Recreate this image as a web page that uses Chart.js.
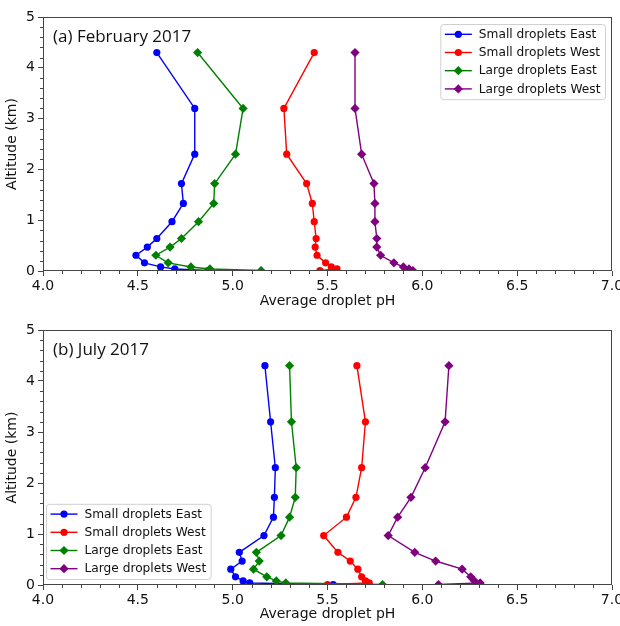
<!DOCTYPE html>
<html>
<head>
<meta charset="utf-8">
<script src="https://cdn.jsdelivr.net/npm/chart.js@4.4.1/dist/chart.umd.min.js"></script>
<style>
  html, body { margin: 0; padding: 0; background: #fff; }
  #wrap { position: relative; width: 620px; height: 626px; }
  canvas { position: absolute; left: 0; }
  #feb { top: 0; }
  #jul { top: 313px; }
</style>
</head>
<body>
<div id="wrap">
  <canvas id="feb" width="620" height="313"></canvas>
  <canvas id="jul" width="620" height="313"></canvas>
</div>
<script>
// altitude levels (km), shared by every profile
const altitudes = [4.3, 3.2, 2.3, 1.72, 1.33, 0.97, 0.64, 0.47, 0.31, 0.16, 0.08, 0.04, 0.01];
const seriesNames = ["Small droplets East", "Small droplets West", "Large droplets East", "Large droplets West"];
const seriesColors = ["#0000ff", "#ff0000", "#008000", "#800080"];
const xTicks = [4.0, 4.5, 5.0, 5.5, 6.0, 6.5, 7.0];
const yTicks = [0, 1, 2, 3, 4, 5];

// (a) February 2017 - average droplet pH
const febSmallEast = [4.60, 4.80, 4.80, 4.73, 4.74, 4.68, 4.60, 4.55, 4.49, 4.535, 4.62, 4.695, 4.87];
const febSmallWest = [5.43, 5.27, 5.285, 5.39, 5.42, 5.43, 5.44, 5.435, 5.445, 5.49, 5.52, 5.55, 5.46];
const febLargeEast = [4.815, 5.055, 5.015, 4.905, 4.90, 4.82, 4.73, 4.67, 4.595, 4.66, 4.78, 4.88, 5.15];
const febLargeWest = [5.645, 5.645, 5.68, 5.745, 5.75, 5.75, 5.76, 5.76, 5.78, 5.85, 5.90, 5.93, 5.95];

// (b) July 2017 - average droplet pH
const julSmallEast = [5.17, 5.20, 5.225, 5.22, 5.215, 5.165, 5.035, 5.05, 4.99, 5.015, 5.055, 5.09, 5.53];
const julSmallWest = [5.655, 5.70, 5.68, 5.65, 5.60, 5.48, 5.555, 5.62, 5.66, 5.68, 5.70, 5.72, 5.50];
const julLargeEast = [5.30, 5.31, 5.335, 5.33, 5.30, 5.255, 5.125, 5.14, 5.11, 5.18, 5.23, 5.28, 5.79];
const julLargeWest = [6.14, 6.12, 6.015, 5.94, 5.87, 5.82, 5.96, 6.07, 6.21, 6.255, 6.275, 6.305, 6.085];

const tickFont = { family: "'DejaVu Sans'", size: 14 };

function makeDatasets(profiles){
  return profiles.map((vals, i) => {
    const small = i < 2;
    return {
      label: seriesNames[i],
      data: vals.map((v, k) => ({ x: v, y: altitudes[k] })),
      showLine: true,
      borderColor: seriesColors[i],
      backgroundColor: seriesColors[i],
      borderWidth: 1.4,
      pointStyle: small ? "circle" : "rectRot",
      pointRadius: small ? 3.6 : 4.6,
      pointBorderWidth: 0,
      order: 3 - i
    };
  });
}

// frame + minor ticks, matplotlib style
const frameTicks = {
  id: "frameTicks",
  afterDraw(chart){
    const ctx = chart.ctx, a = chart.chartArea;
    const xs = chart.scales.x, ys = chart.scales.y;
    ctx.save();
    ctx.strokeStyle = "#444";
    ctx.lineWidth = 1;
    ctx.strokeRect(a.left + 0.5, a.top + 0.5, a.right - a.left - 1, a.bottom - a.top - 1);
    ctx.beginPath();
    for(let i = 0; i <= 30; i++){
      if(i % 5 === 0) continue;
      const px = Math.round(xs.getPixelForValue(4 + i / 10)) + 0.5;
      ctx.moveTo(px, a.bottom); ctx.lineTo(px, a.bottom + 3);
    }
    for(let i = 0; i <= 25; i++){
      if(i % 5 === 0) continue;
      const py = Math.round(ys.getPixelForValue(i / 5)) + 0.5;
      ctx.moveTo(a.left, py); ctx.lineTo(a.left - 3, py);
    }
    ctx.stroke();
    ctx.restore();
  }
};

// panel label in upper left corner
const panelLabel = {
  id: "panelLabel",
  afterDraw(chart, args, opts){
    const ctx = chart.ctx, a = chart.chartArea;
    ctx.save();
    ctx.font = "17px 'Open Sans'";
    ctx.fillStyle = "#111";
    ctx.textBaseline = "middle";
    ctx.fillText(opts.text, a.left + 10, a.top + 20);
    ctx.restore();
  }
};

// legend box with line + marker samples
const boxLegend = {
  id: "boxLegend",
  afterDraw(chart, args, opts){
    const ctx = chart.ctx, a = chart.chartArea;
    const items = chart.data.datasets;
    const rowH = 18.2, lineLen = 27, gap = 7, padX = 4.5, padY = 1.2;
    ctx.save();
    ctx.font = "12.2px 'DejaVu Sans'";
    const textW = Math.max(...items.map(d => ctx.measureText(d.label).width));
    const w = padX * 2 + lineLen + gap + textW;
    const h = padY * 2 + rowH * items.length;
    const x0 = opts.corner === "topRight" ? a.right - opts.dx - w : a.left + opts.dx;
    const y0 = opts.corner === "topRight" ? a.top + opts.dy : a.bottom - opts.dy - h;
    ctx.beginPath();
    ctx.roundRect(x0 + 0.5, y0 + 0.5, w, h, 3);
    ctx.fillStyle = "rgba(255,255,255,0.8)";
    ctx.fill();
    ctx.strokeStyle = "#d0d0d0";
    ctx.lineWidth = 1;
    ctx.stroke();
    items.forEach((d, i) => {
      const cy = y0 + padY + rowH * (i + 0.5);
      const lx = x0 + padX;
      ctx.strokeStyle = d.borderColor;
      ctx.fillStyle = d.backgroundColor;
      ctx.lineWidth = d.borderWidth;
      ctx.beginPath();
      ctx.moveTo(lx, cy); ctx.lineTo(lx + lineLen, cy);
      ctx.stroke();
      Chart.helpers.drawPoint(ctx, { pointStyle: d.pointStyle, radius: d.pointRadius, rotation: 0, borderWidth: 0 }, lx + lineLen / 2, cy);
      ctx.fillStyle = "#111";
      ctx.textBaseline = "middle";
      ctx.fillText(d.label, lx + lineLen + gap, cy + 0.5);
    });
    ctx.restore();
  }
};

function makeChart(id, profiles, label, legendOpts, axisH){
  return new Chart(document.getElementById(id), {
    type: "scatter",
    data: { datasets: makeDatasets(profiles) },
    plugins: [frameTicks, panelLabel, boxLegend],
    options: {
      responsive: false,
      animation: false,
      layout: { padding: { top: 17, right: 8, left: 0, bottom: 0 } },
      scales: {
        x: {
          type: "linear", min: xTicks[0], max: xTicks[xTicks.length - 1],
          afterFit: s => { s.height = axisH; s.paddingLeft = 0; s.paddingRight = 0; },
          afterBuildTicks: s => { s.ticks = xTicks.map(v => ({ value: v })); },
          border: { display: false },
          grid: { drawOnChartArea: false, tickLength: 5, color: "#444" },
          ticks: { font: tickFont, color: "#111", padding: 2, maxRotation: 0, callback: v => Number(v).toFixed(1) },
          title: { display: true, text: "Average droplet pH", font: tickFont, color: "#111", padding: { top: 0, bottom: 3 } }
        },
        y: {
          type: "linear", min: yTicks[0], max: yTicks[yTicks.length - 1],
          afterFit: s => { s.width = 43; s.paddingTop = 0; s.paddingBottom = 0; },
          afterBuildTicks: s => { s.ticks = yTicks.map(v => ({ value: v })); },
          border: { display: false },
          grid: { drawOnChartArea: false, tickLength: 5, color: "#444" },
          ticks: { font: tickFont, color: "#111", padding: 3 },
          title: { display: true, text: "Altitude (km)", font: tickFont, color: "#111", padding: { top: 4, bottom: 2 } }
        }
      },
      plugins: {
        legend: { display: false },
        tooltip: { enabled: false },
        panelLabel: { text: label },
        boxLegend: legendOpts
      }
    }
  });
}

makeChart("feb", [febSmallEast, febSmallWest, febLargeEast, febLargeWest], "(a) February 2017",
  { corner: "topRight", dx: 7, dy: 7 }, 42);
makeChart("jul", [julSmallEast, julSmallWest, julLargeEast, julLargeWest], "(b) July 2017",
  { corner: "bottomLeft", dx: 3, dy: 6 }, 41);
</script>
</body>
</html>
